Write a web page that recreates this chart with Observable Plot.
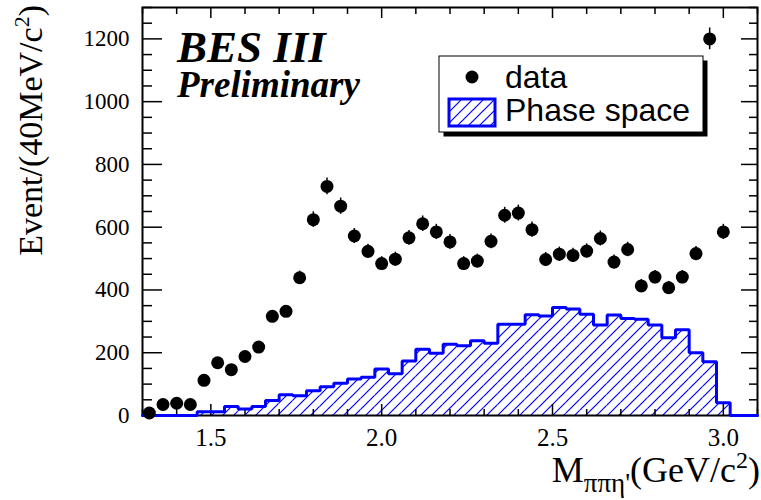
<!DOCTYPE html>
<html><head><meta charset="utf-8">
<script src="https://cdn.jsdelivr.net/npm/d3@7"></script>
<script src="https://cdn.jsdelivr.net/npm/@observablehq/plot@0.6"></script>
<style>
body{margin:0;background:#fff}
#chart{width:761px;height:500px}
</style>
</head><body><div id="chart"></div>
<script>
// M(pi pi eta') bin centres (GeV/c^2), 40 MeV bins
const massCenters = [1.32,1.36,1.40,1.44,1.48,1.52,1.56,1.60,1.64,1.68,1.72,1.76,1.80,1.84,1.88,1.92,1.96,2.00,2.04,2.08,2.12,2.16,2.20,2.24,2.28,2.32,2.36,2.40,2.44,2.48,2.52,2.56,2.60,2.64,2.68,2.72,2.76,2.80,2.84,2.88,2.92,2.96,3.00];
// data: events per 40 MeV/c^2
const dataCounts = [8,35,39,35,112,168,146,188,218,316,332,439,624,730,667,572,523,484,498,566,611,585,553,484,492,555,638,645,592,497,514,510,524,564,489,529,413,441,407,441,516,1200,585];
// phase-space histogram: lower bin edges and contents
const psLowEdges = [1.30,1.34,1.38,1.42,1.46,1.50,1.54,1.58,1.62,1.66,1.70,1.74,1.78,1.82,1.86,1.90,1.94,1.98,2.02,2.06,2.10,2.14,2.18,2.22,2.26,2.30,2.34,2.38,2.42,2.46,2.50,2.54,2.58,2.62,2.66,2.70,2.74,2.78,2.82,2.86,2.90,2.94,2.98,3.02,3.06];
const phaseSpace = [0,0,0,0,12,12,29,21,29,48,66,63,79,92,103,116,122,148,133,174,211,198,227,222,238,230,291,291,321,317,344,339,323,288,320,309,307,288,248,273,200,171,41,0,0];
const binWidth = 0.04;
// axis ticks
const xTicks = [1.5,2.0,2.5,3.0];
const xMinorTicks = [1.3,1.4,1.6,1.7,1.8,1.9,2.1,2.2,2.3,2.4,2.6,2.7,2.8,2.9,3.1];
const yTicks = [0,200,400,600,800,1000,1200];
const yMinorTicks = [50,100,150,250,300,350,450,500,550,650,700,750,850,900,950,1050,1100,1150,1250,1300];

const dataTable = massCenters.map((m, i) => ({m, n: dataCounts[i], err: Math.sqrt(dataCounts[i])}));
const psTable = psLowEdges.map((x1, i) => ({x1, x2: +(x1 + binWidth).toFixed(2), v: phaseSpace[i]}));
const psOutline = psTable.flatMap(d => [{x: d.x1, y: d.v}, {x: d.x2, y: d.v}]);

const W = 761, H = 500, mL = 142, mR = 4, mT = 7, mB = 85;
const fw = W - mL - mR, fh = H - mT - mB;

const chart = Plot.plot({
  width: W, height: H,
  marginLeft: mL, marginRight: mR, marginTop: mT, marginBottom: mB,
  x: {domain: [1.3, 3.1]},
  y: {domain: [0, 1300]},
  style: {fontFamily: "'Liberation Serif','Times New Roman',serif", background: "white", overflow: "visible", color: "black"},
  marks: [
    Plot.rectY(psTable, {x1: "x1", x2: "x2", y: "v", fill: "url(#psHatch)"}),
    Plot.frame({stroke: "black", strokeWidth: 2}),
    // y ticks (left and right, inward)
    Plot.ruleY(yTicks, {insetRight: fw - 20, stroke: "black", strokeWidth: 1.5}),
    Plot.ruleY(yMinorTicks, {insetRight: fw - 10, stroke: "black", strokeWidth: 1.5}),
    Plot.ruleY(yTicks, {insetLeft: fw - 16, stroke: "black", strokeWidth: 1.5}),
    Plot.ruleY(yMinorTicks, {insetLeft: fw - 8, stroke: "black", strokeWidth: 1.5}),
    // x ticks (bottom and top, inward)
    Plot.ruleX(xTicks, {insetTop: fh - 11, stroke: "black", strokeWidth: 1.5}),
    Plot.ruleX(xMinorTicks, {insetTop: fh - 6, stroke: "black", strokeWidth: 1.5}),
    Plot.ruleX(xTicks, {insetBottom: fh - 11, stroke: "black", strokeWidth: 1.5}),
    Plot.ruleX(xMinorTicks, {insetBottom: fh - 7, stroke: "black", strokeWidth: 1.5}),
    Plot.axisY({ticks: yTicks, tickSize: 0, tickPadding: 13, fontSize: 23, label: null, tickFormat: d => String(d)}),
    Plot.axisX({ticks: xTicks, tickSize: 0, tickPadding: 13, fontSize: 25, label: null, tickFormat: d => d.toFixed(1)}),
    Plot.line(psOutline, {x: "x", y: "y", stroke: "#0000ff", strokeWidth: 3, strokeLinejoin: "miter"}),
    Plot.ruleX(dataTable, {x: "m", y1: d => d.n - d.err, y2: d => d.n + d.err, stroke: "black", strokeWidth: 1.5}),
    Plot.dot(dataTable, {x: "m", y: "n", r: 6.5, fill: "black", stroke: null})
  ]
});
document.getElementById("chart").appendChild(chart);

const svg = d3.select(chart);
const defs = svg.insert("defs", ":first-child");
const pat = defs.append("pattern").attr("id", "psHatch")
  .attr("patternUnits", "userSpaceOnUse").attr("width", 11).attr("height", 11);
pat.append("rect").attr("width", 11).attr("height", 11).attr("fill", "white");
pat.append("path").attr("d", "M-2.75,2.75 l5.5,-5.5 M0,11 l11,-11 M8.25,13.75 l5.5,-5.5")
  .attr("stroke", "#0000ff").attr("stroke-width", 1.2).attr("fill", "none")
  .style("stroke", "#0000ff").style("stroke-width", "1.2px");

const serif = "'Liberation Serif','Times New Roman',serif";
// Experiment labels
svg.append("text").attr("x", 177).attr("y", 62).attr("text-anchor", "start")
  .attr("font-family", serif)
  .attr("font-style", "italic").attr("font-weight", "bold").attr("font-size", 45)
  .attr("fill", "black").text("BES III");
svg.append("text").attr("x", 177).attr("y", 97).attr("text-anchor", "start")
  .attr("font-family", serif)
  .attr("font-style", "italic").attr("font-weight", "bold").attr("font-size", 37)
  .attr("fill", "black").text("Preliminary");

// Legend
const lg = svg.append("g").attr("font-family", "'Liberation Sans',Arial,sans-serif").attr("text-anchor", "start");
lg.append("rect").attr("x", 443.5).attr("y", 60.5).attr("width", 264).attr("height", 76).attr("fill", "black");
lg.append("rect").attr("x", 439).attr("y", 56).attr("width", 264).attr("height", 76)
  .attr("fill", "white").attr("stroke", "black").attr("stroke-width", 1);
lg.append("circle").attr("cx", 472).attr("cy", 77).attr("r", 6.5).attr("fill", "black");
lg.append("text").attr("x", 505).attr("y", 88).attr("font-size", 32).attr("fill", "black").text("data");
lg.append("rect").attr("x", 449).attr("y", 99).attr("width", 46).attr("height", 27)
  .attr("fill", "url(#psHatch)").attr("stroke", "#0000ff").attr("stroke-width", 3);
lg.append("text").attr("x", 505).attr("y", 121).attr("font-size", 32).attr("fill", "black").text("Phase space");

// Axis titles
const yt = svg.append("text").attr("transform", "translate(42,5) rotate(-90)")
  .attr("text-anchor", "end").attr("font-family", serif).attr("font-size", 34).attr("fill", "black");
yt.append("tspan").text("Event/(40MeV/c");
yt.append("tspan").attr("font-size", 22).attr("dy", -13).text("2");
yt.append("tspan").attr("dy", 13).text(")");

const xt = svg.append("text").attr("x", 760).attr("y", 482)
  .attr("text-anchor", "end").attr("font-family", serif).attr("font-size", 36).attr("fill", "black");
xt.append("tspan").text("M");
xt.append("tspan").attr("font-size", 27).attr("dy", 10).text("ππη'");
xt.append("tspan").attr("dy", -10).text("(GeV/c");
xt.append("tspan").attr("font-size", 24).attr("dy", -14).text("2");
xt.append("tspan").attr("dy", 14).text(")");
</script>
</body></html>
